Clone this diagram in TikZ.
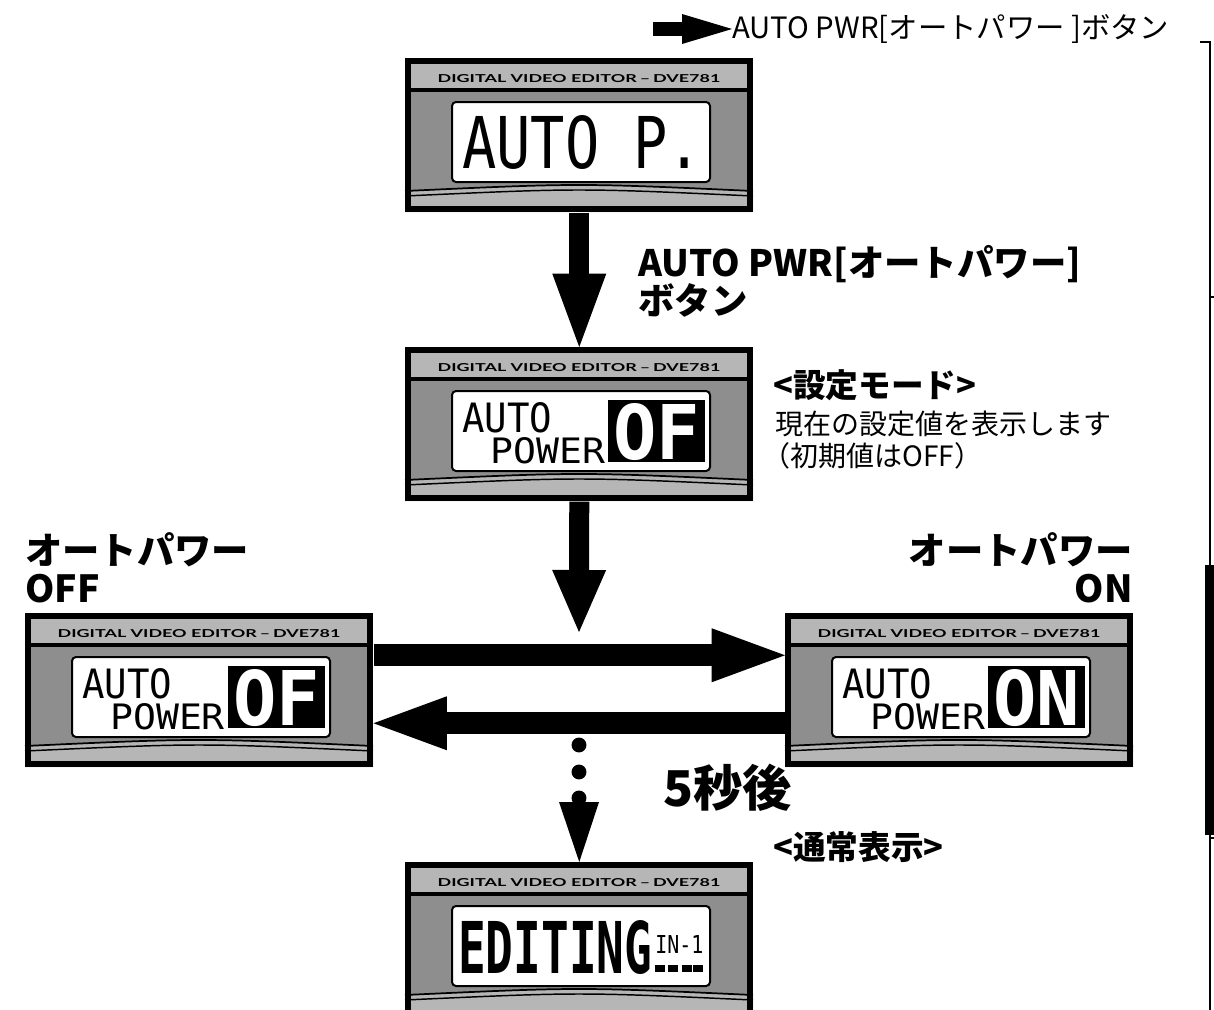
\documentclass[tikz,border=0pt]{standalone}
\usepackage{graphicx}
\usepackage{fontspec}
\usetikzlibrary{arrows.meta,calc}
\newfontfamily\jpfont{Noto Sans CJK JP}
\newfontfamily\lcdfont{DejaVu Sans Mono}
\newfontfamily\badgefont{Lato}
\definecolor{headgray}{HTML}{B6B6B6}
\definecolor{bodygray}{HTML}{8E8E8E}
\tikzset{
  lcdframe/.style={fill=white, draw=black, line width=1.5pt, rounded corners=3pt},
  bigarrow/.style={line width=15pt, -{Triangle[width=40.5pt, length=55pt, line width=0pt]}},
  smallarrow/.style={line width=11pt, -{Triangle[width=22.5pt, length=37.5pt, line width=0pt]}},
  jpbig/.style={font=\jpfont\bfseries\fontsize{28pt}{28.5pt}\selectfont, inner sep=0pt},
  jphuge/.style={font=\jpfont\bfseries\fontsize{37pt}{37pt}\selectfont, inner sep=0pt},
  jpmid/.style={font=\jpfont\bfseries\fontsize{24.5pt}{24pt}\selectfont, inner sep=0pt},
  jptext/.style={font=\jpfont\fontsize{21pt}{24pt}\selectfont, inner sep=0pt, align=left},
}

% front panel of the editor: #1 node name, #2 top left corner, #3 what the LCD shows
\newcommand\dvepanel[3]{%
  \begin{scope}[shift={(#2)}]
    \fill[bodygray] (0,0) rectangle (348,154);
    \fill[headgray] (0,0) rectangle (348,31);
    \fill[headgray] (0,133) .. controls (174,125) .. (348,133) -- (348,154) -- (0,154) -- cycle;
    \draw[line width=3pt] (0,32) -- (348,32);
    \draw[line width=1.3pt] (0,133) .. controls (174,125) .. (348,133);
    \draw[line width=1.1pt] (0,138) .. controls (174,130) .. (348,138);
    \draw[line width=4.5pt] (3,3) rectangle (345,151);
    \node at (174,21) {\resizebox{212pt}{6pt}{\badgefont\bfseries DIGITAL VIDEO EDITOR\,–\,DVE781}};
    \draw[lcdframe] (47,44) rectangle (305,124);
    #3
    \node[inner sep=0pt, minimum width=261pt, minimum height=115.5pt, anchor=north west] (#1) at (0,0) {};
  \end{scope}}

% LCD reading AUTO POWER with the value in a black box
\newcommand\autopowerlcd[1]{%
  \node[anchor=base west, inner sep=0pt] at (57,85) {\resizebox{67.5pt}{22.5pt}{\lcdfont AUTO}};
  \node[anchor=base west, inner sep=0pt] at (85,116) {\resizebox{86pt}{19.5pt}{\lcdfont POWER}};
  \fill (203,53) rectangle (300,115);
  \node[anchor=base west, inner sep=0pt, text=white] at (208,112) {\resizebox{65pt}{42pt}{\lcdfont\bfseries #1}};
}

\begin{document}
\begin{tikzpicture}[x=0.75pt, y=-0.75pt]
  \clip (0,0) rectangle (1214,1010);
  \fill[white] (0,0) rectangle (1214,1010);

  % legend
  \node[anchor=west, inner sep=0pt, font=\jpfont\fontsize{22pt}{22pt}\selectfont] (legend) at (732,29) {AUTO PWR[オートパワー ]ボタン};
  \coordinate (legendtail) at (653,29);
  \draw[smallarrow] (legendtail) -- (legend.west);

  % marks on the page edge
  \draw[line width=1.2pt] (1200,42) -- (1210,42) -- (1210,1010);
  \draw[line width=1.2pt] (1210,297) -- (1214,297);
  \fill (1205,565) rectangle (1214,835);
  \draw[line width=1.2pt] (1210,838) -- (1214,838);

  % the five displays
  \dvepanel{autop}{405,58}{%
    \node[anchor=base west, inner sep=0pt] at (57,110) {\resizebox{180pt}{39.75pt}{\lcdfont AUTO P.}};}
  \dvepanel{setmode}{405,347}{\autopowerlcd{OF}}
  \dvepanel{powoff}{25,613}{\autopowerlcd{OF}}
  \dvepanel{powon}{785,613}{\autopowerlcd{ON}}
  \dvepanel{normal}{405,862}{%
    \node[anchor=base west, inner sep=0pt] at (53,111) {\resizebox{145.5pt}{39.75pt}{\lcdfont\bfseries EDITING}};
    \node[anchor=base west, inner sep=0pt] at (250,91) {\resizebox{36pt}{13.5pt}{\lcdfont IN-1}};
    \foreach \bx in {250,263,277,288} \fill (\bx,103) rectangle ++(10,7);}

  % arrows between the displays
  \draw[bigarrow] (autop.south) -- (setmode.north);
  \coordinate (fork) at (579,632);
  \draw[bigarrow, -{Triangle[width=40.5pt, length=46.5pt, line width=0pt]}] (setmode.south) -- (fork);
  \draw[bigarrow, line width=16.5pt] ($(powoff.east)+(0,-35)$) -- ($(powon.west)+(0,-35)$);
  \draw[bigarrow, line width=16.5pt] ($(powon.west)+(0,33)$) -- ($(powoff.east)+(0,33)$);

  % dotted arrow: after 5 seconds
  \coordinate (dots) at (579,745);
  \foreach \dy in {0,27,53} \fill ($(dots)+(0,\dy)$) circle[radius=5.6pt];
  \fill ($(dots)+(-20,57)$) -- ($(dots)+(20,57)$) -- (normal.north) -- cycle;

  % labels
  \node[jpbig, font=\jpfont\bfseries\fontsize{27.3pt}{28.5pt}\selectfont, anchor=north west, align=left] (btnlabel) at (638,245) {AUTO PWR[オートパワー]\\ボタン};
  \node[jpmid, anchor=north west] (modetitle) at (773,369) {<設定モード>};
  \node[jptext, anchor=north west] (modetext) at (775,411) {現在の設定値を表示します\\\kern-0.45em（初期値はOFF）};
  \node[jpbig, anchor=north west, align=left] (offlabel) at (25,532) {オートパワー\\OFF};
  \node[jpbig, anchor=north east, align=right] (onlabel) at (1133,532) {オートパワー\\ON};
  \node[jphuge, anchor=north west] (wait) at (663,764) {5秒後};
  \node[jpmid, anchor=north west] (normaltitle) at (773,831) {<通常表示>};
\end{tikzpicture}
\end{document}
